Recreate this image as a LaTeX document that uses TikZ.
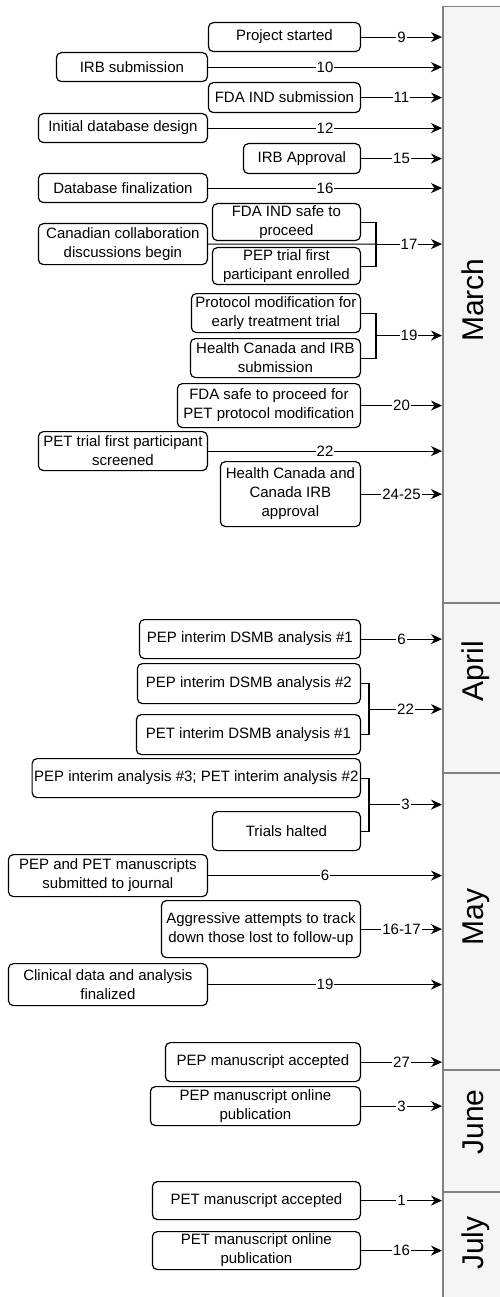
\documentclass[tikz,border=0pt]{standalone}
\usepackage{fontspec}
\setmainfont{Liberation Sans}
\usetikzlibrary{arrows.meta}
\usetikzlibrary{positioning}
\usetikzlibrary{calc}

\begin{document}
\begin{tikzpicture}[x=1pt, y=-1pt, >={Stealth[length=11pt,width=10pt,inset=3.5pt]},
    event/.style={draw, rounded corners=5pt, fill=white, line width=1.2pt, align=center,
                  inner sep=2pt, anchor=north east, font=\fontsize{15}{19}\selectfont},
    day/.style={fill=white, inner sep=1pt, font=\fontsize{15}{15}\selectfont},
    month/.style={draw=gray, fill=gray!8, line width=1.5pt, minimum width=80pt,
                  inner sep=0pt, anchor=north west},
    monthname/.style={rotate=90, inner sep=0pt, text height=22pt, text depth=0pt,
                  font=\fontsize{30}{30}\selectfont},
    link/.style={line width=1.1pt}]
      \useasboundingbox (0,0) rectangle (500,1297);

      % months
      \node[month, minimum height=596pt] (march) at (442,6)    {};
      \node[month, minimum height=170pt] (april) at (442,602)  {};
      \node[month, minimum height=297pt] (may)   at (442,772)  {};
      \node[month, minimum height=122pt] (june)  at (442,1069) {};
      \node[month, minimum height=120pt] (july)  at (442,1191) {};
      \node[monthname] (marchname) at (472,300)  {March};
      \node[monthname] (aprilname) at (472,671)  {April};
      \node[monthname] (mayname)   at (472,917)  {May};
      \node[monthname] (junename)  at (472,1122) {June};
      \node[monthname] (julyname)  at (472,1243) {July};

      % March
      \node[event, minimum width=152pt, minimum height=29pt] (start)    at (361,22)  {Project started};
      \node[event, minimum width=151pt, minimum height=29pt] (irbsub)   at (208,52)  {IRB submission};
      \node[event, minimum width=152pt, minimum height=30pt] (fdasub)   at (361,82)  {FDA IND submission};
      \node[event, minimum width=169pt, minimum height=29pt] (dbdesign) at (208,113) {Initial database design};
      \node[event, minimum width=117pt, minimum height=30pt] (irbappr)  at (361,143) {IRB Approval};
      \node[event, minimum width=169pt, minimum height=29pt] (dbfinal)  at (208,173) {Database finalization};
      \node[event, minimum width=148pt, minimum height=37pt] (fdasafe)  at (361,203) {FDA IND safe to\\proceed};
      \node[event, minimum width=148pt, minimum height=36pt] (pepfirst) at (361,247) {PEP trial first\\participant enrolled};
      \node[event, minimum width=169pt, minimum height=41pt] (canada)   at (208,223) {Canadian collaboration\\discussions begin};
      \node[event, minimum width=169pt, minimum height=39pt] (protmod)  at (361,293) {Protocol modification for\\early treatment trial};
      \node[event, minimum width=170pt, minimum height=39pt] (hcsub)    at (361,338) {Health Canada and IRB\\submission};
      \node[event, minimum width=183pt, minimum height=44pt] (fdapet)   at (361,383) {FDA safe to proceed for\\PET protocol modification};
      \node[event, minimum width=169pt, minimum height=39pt] (petfirst) at (208,431) {PET trial first participant\\screened};
      \node[event, minimum width=140pt, minimum height=65pt] (hcappr)   at (361,461) {Health Canada and\\Canada IRB\\approval};

      % April
      \node[event, minimum width=221pt, minimum height=39pt] (pepdsmb1) at (361,619) {PEP interim DSMB analysis \#1};
      \node[event, minimum width=223pt, minimum height=40pt] (pepdsmb2) at (361,663) {PEP interim DSMB analysis \#2};
      \node[event, minimum width=224pt, minimum height=40pt] (petdsmb1) at (361,714) {PET interim DSMB analysis \#1};

      % May
      \node[event, minimum width=313pt, minimum height=39pt] (interim)   at (361,758)  {PEP interim analysis \#3; PET interim analysis \#2};
      \node[event, minimum width=148pt, minimum height=39pt] (halted)    at (361,811)  {Trials halted};
      \node[event, minimum width=199pt, minimum height=42pt] (submitted) at (208,854)  {PEP and PET manuscripts\\submitted to journal};
      \node[event, minimum width=199pt, minimum height=57pt] (tracking)  at (361,900)  {Aggressive attempts to track\\down those lost to follow-up};
      \node[event, minimum width=199pt, minimum height=42pt] (clinical)  at (208,963)  {Clinical data and analysis\\finalized};
      \node[event, minimum width=195pt, minimum height=39pt] (pepacc)    at (361,1042) {PEP manuscript accepted};

      % June, July
      \node[event, minimum width=210pt, minimum height=39pt] (peponline) at (361,1086) {PEP manuscript online\\publication};
      \node[event, minimum width=208pt, minimum height=38pt] (petacc)    at (361,1181) {PET manuscript accepted};
      \node[event, minimum width=208pt, minimum height=38pt] (petonline) at (361,1231) {PET manuscript online\\publication};

      % joins for events on the same day
      \coordinate (j17) at ($(fdasafe.east)!0.5!(pepfirst.east) + (15,0)$);
      \coordinate (j19) at ($(protmod.east)!0.5!(hcsub.east) + (15,0)$);
      \coordinate (j22) at ($(pepdsmb2.east)!0.5!(petdsmb1.east) + (8,0)$);
      \coordinate (j3)  at ($(interim.east)!0.5!(halted.east) + (8,0)$);
      \draw[link] (fdasafe.east)  -| (j17);
      \draw[link] (pepfirst.east) -| (j17);
      \draw[link] (canada) -- (j17);
      \draw[link] (protmod.east)  -| (j19);
      \draw[link] (hcsub.east)    -| (j19);
      \draw[link] (pepdsmb2.east) -| (j22);
      \draw[link] (petdsmb1.east) -| (j22);
      \draw[link] (interim.east)  -| (j3);
      \draw[link] (halted.east)   -| (j3);

      \path[->, link]
        (start.east)     edge node[day] {9}     (start.east -| march.west)
        (irbsub.east)    edge node[day] {10}    (irbsub.east -| march.west)
        (fdasub.east)    edge node[day] {11}    (fdasub.east -| march.west)
        (dbdesign.east)  edge node[day] {12}    (dbdesign.east -| march.west)
        (irbappr.east)   edge node[day] {15}    (irbappr.east -| march.west)
        (dbfinal.east)   edge node[day] {16}    (dbfinal.east -| march.west)
        (j17)            edge node[day] {17}    (j17 -| march.west)
        (j19)            edge node[day] {19}    (j19 -| march.west)
        (fdapet.east)    edge node[day] {20}    (fdapet.east -| march.west)
        (petfirst.east)  edge node[day] {22}    (petfirst.east -| march.west)
        (hcappr.east)    edge node[day] {24-25} (hcappr.east -| march.west)
        (pepdsmb1.east)  edge node[day] {6}     (pepdsmb1.east -| april.west)
        (j22)            edge node[day] {22}    (j22 -| april.west)
        (j3)             edge node[day] {3}     (j3 -| may.west)
        (submitted.east) edge node[day] {6}     (submitted.east -| may.west)
        (tracking.east)  edge node[day] {16-17} (tracking.east -| may.west)
        (clinical.east)  edge node[day] {19}    (clinical.east -| may.west)
        (pepacc.east)    edge node[day] {27}    (pepacc.east -| may.west)
        (peponline.east) edge node[day] {3}     (peponline.east -| june.west)
        (petacc.east)    edge node[day] {1}     (petacc.east -| july.west)
        (petonline.east) edge node[day] {16}    (petonline.east -| july.west);
    \end{tikzpicture}
\end{document}
